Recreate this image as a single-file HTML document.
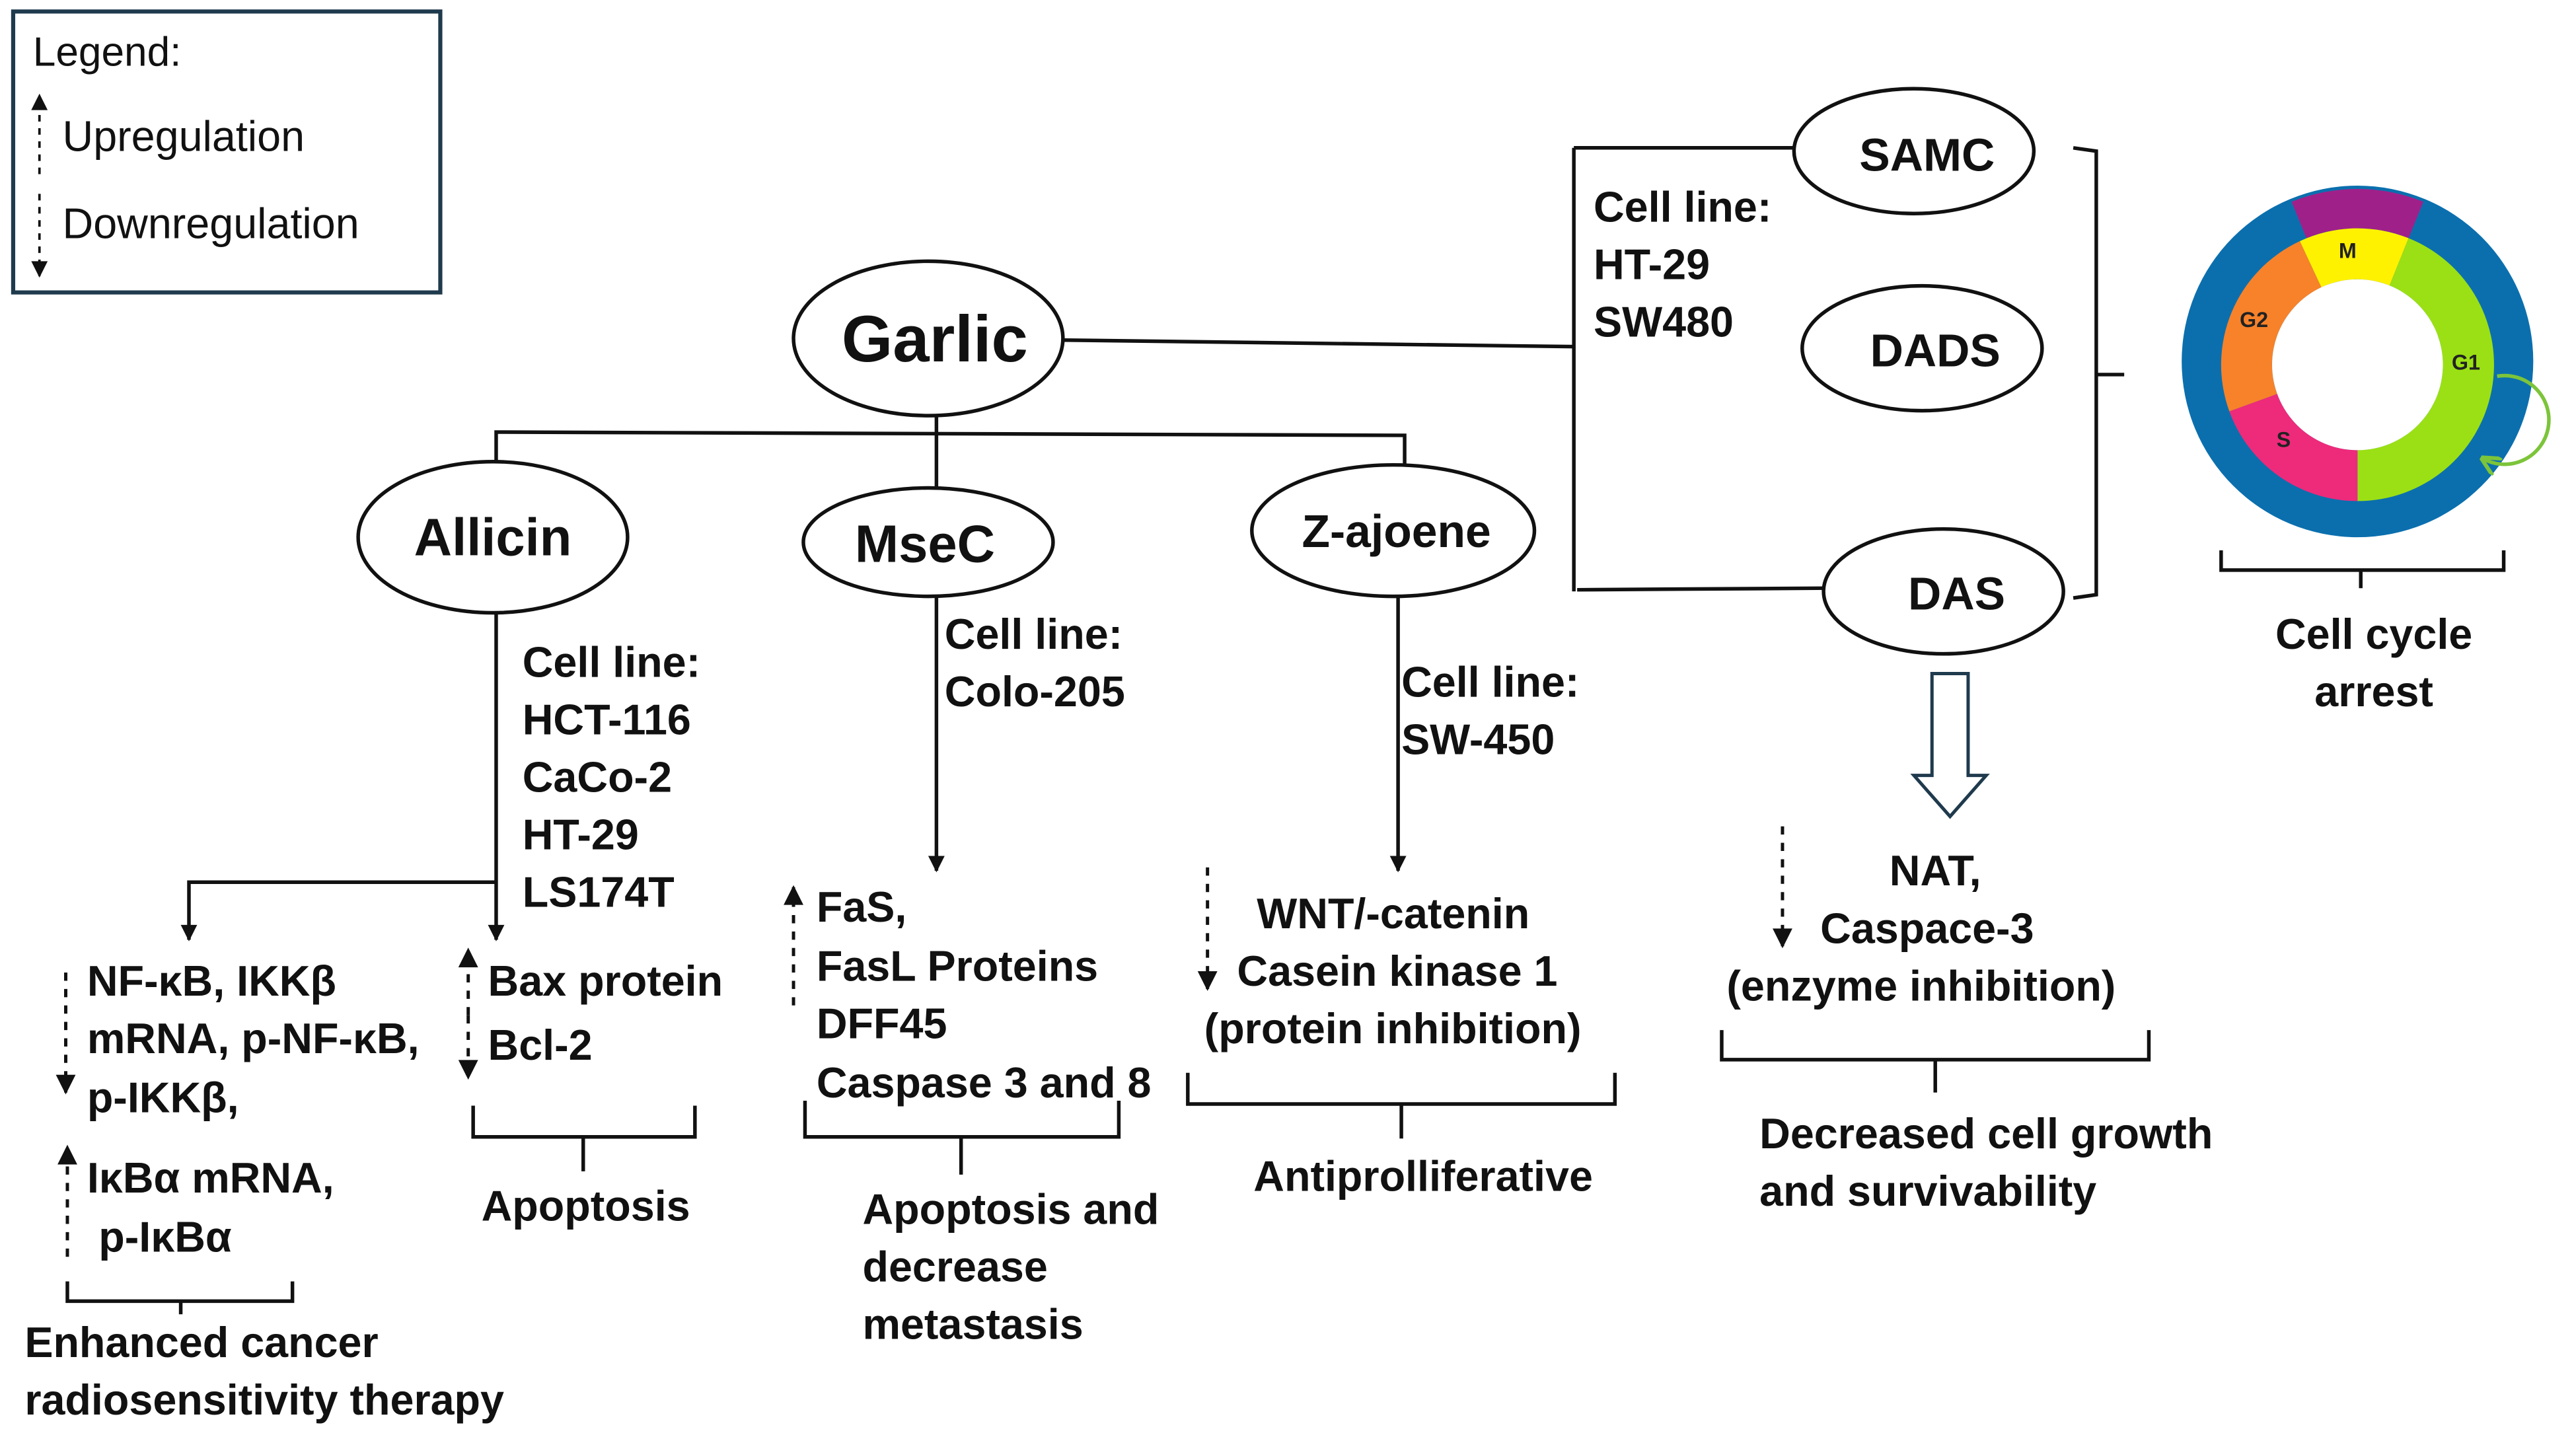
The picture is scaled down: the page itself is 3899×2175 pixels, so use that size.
<!DOCTYPE html>
<html><head><meta charset="utf-8"><style>html,body{margin:0;padding:0;background:#fff}svg{display:block}</style></head>
<body>
<svg width="3899" height="2175" viewBox="0 0 1568 874.7" xmlns="http://www.w3.org/2000/svg" font-family="'Liberation Sans', sans-serif">
<defs>
<marker id="as" viewBox="0 0 10 10" markerWidth="14" markerHeight="10" refX="9" refY="5" orient="auto-start-reverse" markerUnits="userSpaceOnUse"><path d="M0,0 L10,5 L0,10 Z" fill="#111"/></marker>
<marker id="ad" viewBox="0 0 10 10" markerWidth="20" markerHeight="12" refX="9" refY="5" orient="auto-start-reverse" markerUnits="userSpaceOnUse"><path d="M0,0 L10,5 L0,10 Z" fill="#111"/></marker>
<marker id="ag" viewBox="0 0 10 10" markerWidth="12" markerHeight="12" refX="9" refY="5" orient="auto" markerUnits="userSpaceOnUse"><path d="M0,0 L10,5 L0,10" fill="none" stroke="#7cc43a" stroke-width="2"/></marker>
</defs>
<rect width="1568" height="874.7" fill="#fff"/>
<rect x="8" y="7" width="260" height="171" fill="#fff" stroke="#1f3a4d" stroke-width="2.5"/>
<text x="20" y="40" font-size="25" fill="#111">Legend:</text>
<line x1="24" y1="106" x2="24" y2="58" stroke="#111" stroke-width="1.5" stroke-dasharray="4,4" marker-end="url(#as)"/>
<text x="38" y="92" font-size="26" fill="#111">Upregulation</text>
<line x1="24" y1="118" x2="24" y2="168" stroke="#111" stroke-width="1.5" stroke-dasharray="4,4" marker-end="url(#as)"/>
<text x="38" y="145" font-size="26" fill="#111">Downregulation</text>

<g fill="none" stroke="#111" stroke-width="2.2">
<line x1="647" y1="207" x2="958" y2="211"/>
<line x1="958" y1="90" x2="958" y2="360"/>
<line x1="958" y1="90" x2="1092" y2="90"/>
<line x1="960" y1="359" x2="1112" y2="358"/>
<path d="M1262,90 L1276,92 L1276,362 L1262,364 M1276,228 L1293,228"/>
<line x1="570" y1="253" x2="570" y2="298"/>
<path d="M302,295 L302,263 L855,265 L855,297"/>
<line x1="302" y1="373" x2="302" y2="572" marker-end="url(#as)"/>
<path d="M302,537 L115,537 L115,572" marker-end="url(#as)"/>
<line x1="570" y1="363" x2="570" y2="530" marker-end="url(#as)"/>
<line x1="851" y1="363" x2="851" y2="530" marker-end="url(#as)"/>
<path d="M1352,335 L1352,347 L1524,347 L1524,335 M1437,347 L1437,358"/>
<path d="M41,780 L41,792 L178,792 L178,780 M110,792 L110,800"/>
<path d="M288,673 L288,692 L423,692 L423,673 M355,692 L355,713"/>
<path d="M490,670 L490,692 L681,692 L681,670 M585,692 L585,715"/>
<path d="M723,653 L723,672 L983,672 L983,653 M853,672 L853,693"/>
<path d="M1048,627 L1048,645 L1308,645 L1308,627 M1178,645 L1178,665"/>
</g>
<g stroke="#111" stroke-width="2" stroke-dasharray="5,5" fill="none">
<line x1="40" y1="592" x2="40" y2="665" marker-end="url(#ad)"/>
<line x1="41" y1="765" x2="41" y2="698" marker-end="url(#ad)"/>
<line x1="285" y1="618" x2="285" y2="578" marker-end="url(#ad)"/>
<line x1="285" y1="618" x2="285" y2="656" marker-end="url(#ad)"/>
<line x1="483" y1="612" x2="483" y2="540" marker-end="url(#ad)"/>
<line x1="735" y1="528" x2="735" y2="602" marker-end="url(#ad)"/>
<line x1="1085" y1="503" x2="1085" y2="576" marker-end="url(#ad)"/>
</g>
<path d="M1176,410 L1198,410 L1198,472 L1209,472 L1187,497 L1165,472 L1176,472 Z" fill="#fff" stroke="#1f3a4d" stroke-width="2"/>

<g fill="#fff" stroke="#111" stroke-width="2.2">
<ellipse cx="565" cy="206" rx="82" ry="47"/>
<ellipse cx="300" cy="327" rx="82" ry="46"/>
<ellipse cx="565" cy="330" rx="76" ry="33"/>
<ellipse cx="848" cy="323" rx="86" ry="40"/>
<ellipse cx="1165" cy="92" rx="73" ry="38"/>
<ellipse cx="1170" cy="212" rx="73" ry="38"/>
<ellipse cx="1183" cy="360" rx="73" ry="38"/>
</g>
<g font-weight="bold" fill="#111" text-anchor="middle">
<text x="569" y="220" font-size="40">Garlic</text>
<text x="300" y="338" font-size="32">Allicin</text>
<text x="563" y="342" font-size="32">MseC</text>
<text x="850" y="333" font-size="28">Z-ajoene</text>
<text x="1173" y="104" font-size="28">SAMC</text>
<text x="1178" y="223" font-size="28">DADS</text>
<text x="1191" y="371" font-size="28">DAS</text>
</g>

<circle cx="1435" cy="220" r="107" fill="#0b6fae"/>
<path d="M1394.9,122.8 A107 107 0 0 1 1475.1,122.8 L1466.1,145 A83 83 0 0 0 1403.9,145Z" fill="#a0208a"/>
<path d="M1399.9,146.8 A83,83 0 0 1 1466.1,145 L1454.5,173.8 A52,52 0 0 0 1413,174.9Z" fill="#fff200"/>
<path d="M1466.1,145 A83 83 0 0 1 1435,305 L1435,274 A52 52 0 0 0 1454.5,173.8Z" fill="#9be014"/>
<path d="M1435,305 A83 83 0 0 1 1357,250.4 L1386.1,239.8 A52 52 0 0 0 1435,274Z" fill="#ee2a7b"/>
<path d="M1357,250.4 A83 83 0 0 1 1399.9,146.8 L1413,174.9 A52 52 0 0 0 1386.1,239.8Z" fill="#f7822a"/>
<circle cx="1435" cy="222" r="52" fill="#fff"/>
<g font-size="13" font-weight="bold" fill="#222" text-anchor="middle">
<text x="1429" y="157">M</text><text x="1372" y="199">G2</text><text x="1501" y="225">G1</text><text x="1390" y="272">S</text>
</g>
<path d="M1520,229 A27 27 0 1 1 1511,279" fill="none" stroke="#7cc43a" stroke-width="2.2" marker-end="url(#ag)"/>

<g font-weight="bold" fill="#111" font-size="26">
<text x="970" y="135">Cell line:</text><text x="970" y="170">HT-29</text><text x="970" y="205">SW480</text>
<text x="1445" y="395" text-anchor="middle">Cell cycle</text><text x="1445" y="430" text-anchor="middle">arrest</text>
<text x="318" y="412">Cell line:</text><text x="318" y="447">HCT-116</text><text x="318" y="482">CaCo-2</text><text x="318" y="517">HT-29</text><text x="318" y="552">LS174T</text>
<text x="575" y="395">Cell line:</text><text x="575" y="430">Colo-205</text>
<text x="853" y="424">Cell line:</text><text x="853" y="459">SW-450</text>
<text x="53" y="606">NF-κB, IKKβ</text><text x="53" y="641">mRNA, p-NF-κB,</text><text x="53" y="677">p-IKKβ,</text>
<text x="53" y="726">IκBα mRNA,</text><text x="60" y="762">p-IκBα</text>
<text x="15" y="826">Enhanced cancer</text><text x="15" y="861">radiosensitivity therapy</text>
<text x="297" y="606">Bax protein</text><text x="297" y="645">Bcl-2</text>
<text x="293" y="743">Apoptosis</text>
<text x="497" y="561">FaS,</text><text x="497" y="597">FasL Proteins</text><text x="497" y="632">DFF45</text><text x="497" y="668">Caspase 3 and 8</text>
<text x="525" y="745">Apoptosis and</text><text x="525" y="780">decrease</text><text x="525" y="815">metastasis</text>
<text x="765" y="565">WNT/-catenin</text><text x="753" y="600">Casein kinase 1</text><text x="733" y="635">(protein inhibition)</text>
<text x="763" y="725">Antiprolliferative</text>
<text x="1178" y="539" text-anchor="middle">NAT,</text><text x="1108" y="574">Caspace-3</text><text x="1051" y="609">(enzyme inhibition)</text>
<text x="1071" y="699">Decreased cell growth</text><text x="1071" y="734">and survivability</text>
</g>
</svg>
</body></html>
